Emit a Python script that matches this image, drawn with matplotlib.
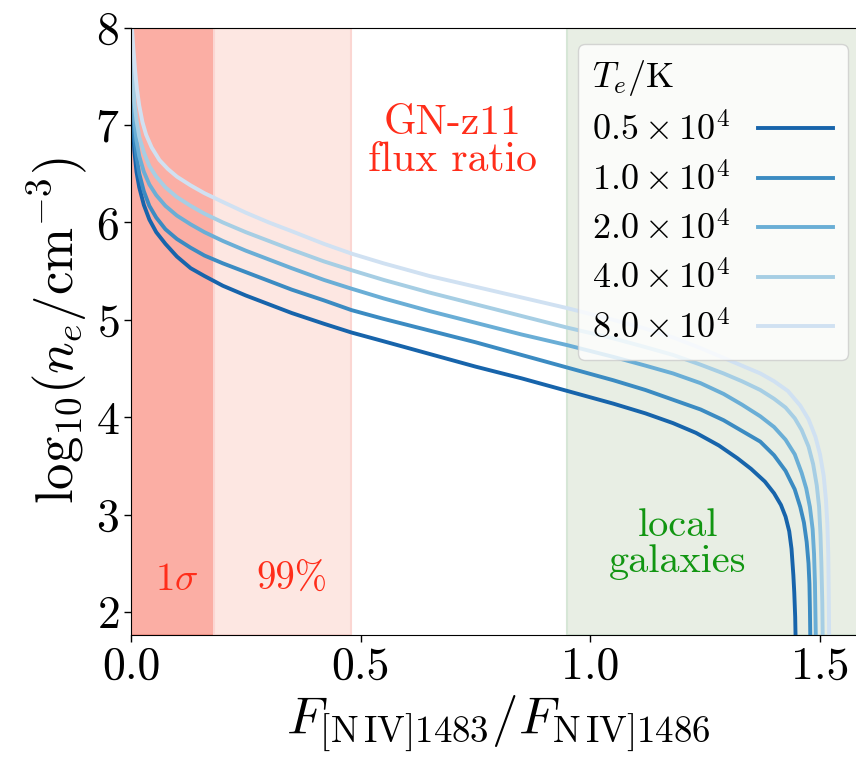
"""
N IV] 1483/1486 doublet ratio as an electron density diagnostic,
for a range of electron temperatures, with the GN-z11 measurement
and the local-galaxy range shaded.
"""
import matplotlib
matplotlib.use("Agg")
import matplotlib.pyplot as plt

plt.rcParams["font.family"] = "serif"
plt.rcParams["font.serif"] = ["cmr10", "DejaVu Serif"]
plt.rcParams["mathtext.fontset"] = "cm"
plt.rcParams["axes.unicode_minus"] = False
plt.rcParams["axes.formatter.use_mathtext"] = True

# flux ratio (x) vs log10 n_e (y) for each temperature
ratio_05 = [0.001, 0.002, 0.004, 0.007, 0.012, 0.018, 0.028, 0.040, 0.055, 0.075,
            0.10, 0.13, 0.16, 0.20, 0.25, 0.30, 0.35, 0.42, 0.48, 0.55,
            0.65, 0.75, 0.85, 0.95, 1.05, 1.12, 1.18, 1.23, 1.28, 1.32,
            1.35, 1.38, 1.40, 1.415, 1.425, 1.433, 1.438, 1.442, 1.444, 1.446,
            1.447]
logne_05 = [8.0, 7.6, 7.1, 6.75, 6.52, 6.36, 6.18, 6.03, 5.90, 5.78,
            5.65, 5.53, 5.45, 5.35, 5.25, 5.16, 5.07, 4.96, 4.87, 4.78,
            4.65, 4.52, 4.40, 4.27, 4.14, 4.04, 3.94, 3.84, 3.71, 3.58,
            3.47, 3.34, 3.22, 3.10, 2.98, 2.83, 2.65, 2.38, 2.2, 1.95,
            1.7]

ratio_10 = [0.001, 0.002, 0.004, 0.007, 0.012, 0.018, 0.028, 0.040, 0.055, 0.075,
            0.10, 0.13, 0.16, 0.20, 0.25, 0.30, 0.35, 0.42, 0.48, 0.55,
            0.65, 0.75, 0.85, 0.95, 1.05, 1.12, 1.18, 1.24, 1.29, 1.33,
            1.37, 1.40, 1.425, 1.445, 1.457, 1.465, 1.471, 1.475, 1.477, 1.478,
            1.479]
logne_10 = [8.0, 7.75, 7.3, 6.88, 6.67, 6.50, 6.32, 6.17, 6.05, 5.93,
            5.83, 5.74, 5.66, 5.58, 5.49, 5.40, 5.31, 5.20, 5.10, 5.01,
            4.89, 4.77, 4.64, 4.51, 4.38, 4.28, 4.18, 4.08, 3.97, 3.86,
            3.75, 3.61, 3.45, 3.26, 3.08, 2.92, 2.72, 2.5, 2.29, 2.05,
            1.7]

ratio_20 = [0.001, 0.003, 0.005, 0.007, 0.012, 0.018, 0.028, 0.040, 0.055, 0.075,
            0.10, 0.13, 0.16, 0.20, 0.25, 0.30, 0.35, 0.42, 0.48, 0.55,
            0.65, 0.75, 0.85, 0.95, 1.05, 1.12, 1.18, 1.24, 1.29, 1.33,
            1.37, 1.40, 1.425, 1.445, 1.46, 1.47, 1.478, 1.484, 1.487, 1.489,
            1.490, 1.491]
logne_20 = [8.0, 7.7, 7.35, 7.05, 6.84, 6.68, 6.52, 6.39, 6.28, 6.17,
            6.07, 5.98, 5.90, 5.81, 5.71, 5.62, 5.53, 5.41, 5.32, 5.22,
            5.09, 4.97, 4.85, 4.74, 4.62, 4.53, 4.45, 4.35, 4.24, 4.13,
            4.01, 3.90, 3.77, 3.62, 3.43, 3.27, 3.08, 2.85, 2.6, 2.3,
            2.0, 1.7]

ratio_40 = [0.001, 0.003, 0.005, 0.007, 0.012, 0.018, 0.028, 0.040, 0.055, 0.075,
            0.10, 0.13, 0.16, 0.20, 0.25, 0.30, 0.35, 0.42, 0.48, 0.55,
            0.65, 0.75, 0.85, 0.95, 1.05, 1.12, 1.18, 1.24, 1.29, 1.33,
            1.37, 1.40, 1.425, 1.445, 1.46, 1.475, 1.485, 1.493, 1.498, 1.501,
            1.503, 1.505, 1.506]
logne_40 = [8.0, 7.75, 7.48, 7.25, 7.05, 6.88, 6.72, 6.58, 6.47, 6.36,
            6.26, 6.17, 6.09, 6.00, 5.90, 5.81, 5.72, 5.60, 5.51, 5.41,
            5.28, 5.16, 5.04, 4.92, 4.81, 4.72, 4.64, 4.54, 4.45, 4.37,
            4.28, 4.19, 4.10, 3.99, 3.87, 3.70, 3.52, 3.30, 3.08, 2.8,
            2.5, 2.1, 1.7]

ratio_80 = [0.002, 0.005, 0.009, 0.013, 0.018, 0.025, 0.033, 0.045, 0.062, 0.08,
            0.10, 0.13, 0.16, 0.20, 0.25, 0.30, 0.35, 0.42, 0.48, 0.55,
            0.65, 0.75, 0.85, 0.95, 1.05, 1.12, 1.18, 1.24, 1.29, 1.33,
            1.37, 1.40, 1.43, 1.457, 1.475, 1.49, 1.50, 1.508, 1.513, 1.516,
            1.518, 1.519, 1.520]
logne_80 = [8.0, 7.8, 7.56, 7.37, 7.20, 7.03, 6.90, 6.77, 6.64, 6.55,
            6.47, 6.38, 6.30, 6.21, 6.10, 6.00, 5.91, 5.78, 5.68, 5.58,
            5.45, 5.34, 5.23, 5.12, 5.00, 4.91, 4.82, 4.71, 4.61, 4.53,
            4.45, 4.37, 4.27, 4.12, 3.98, 3.80, 3.62, 3.40, 3.15, 2.9,
            2.6, 2.2, 1.7]

temp_labels = [r"$0.5\times10^4$", r"$1.0\times10^4$", r"$2.0\times10^4$",
               r"$4.0\times10^4$", r"$8.0\times10^4$"]
ratios = [ratio_05, ratio_10, ratio_20, ratio_40, ratio_80]
lognes = [logne_05, logne_10, logne_20, logne_40, logne_80]

# shaded ranges in flux ratio
gnz11_1sigma = (0.0, 0.18)
gnz11_99 = (0.18, 0.48)
local_range = (0.95, 1.6)

fig = plt.figure(figsize=(8.56, 7.62), dpi=100)
ax = fig.add_axes([0.153, 0.1673, 0.8586, 0.7965])

ax.axvspan(*gnz11_1sigma, facecolor="#fbaea4", edgecolor="#f7978c", lw=1.5, zorder=0)
ax.axvspan(*gnz11_99, facecolor="#fde7e2", edgecolor="#fbd6d2", lw=1.5, zorder=0)
ax.axvspan(*local_range, facecolor="#e8eee4", edgecolor="#d6e6d6", lw=1.5, zorder=0)

colors = [plt.cm.Blues(v) for v in (0.8, 0.65, 0.5, 0.35, 0.2)]
for x, y, c, lab in zip(ratios, lognes, colors, temp_labels):
    ax.plot(x, y, color=c, lw=2.8, label=lab, solid_joinstyle="round")

red = "#ff2d1a"
green = "#129612"
ax.text(0.70, 6.83, "GN-z11\nflux ratio", color=red, fontsize=30,
        ha="center", va="center", linespacing=1.0)
ax.text(0.10, 2.33, r"$1\sigma$", color=red, fontsize=28, ha="center", va="center")
ax.text(0.35, 2.33, "99%", color=red, fontsize=28, ha="center", va="center")
ax.text(1.19, 2.7, "local\ngalaxies", color=green, fontsize=29,
        ha="center", va="center", linespacing=1.0)

ax.set_xlim(0, 1.6)
ax.set_ylim(1.77, 8.0)
ax.set_xticks([0.0, 0.5, 1.0, 1.5])
ax.set_xticklabels(["0.0", "0.5", "1.0", "1.5"])
ax.set_yticks([2, 3, 4, 5, 6, 7, 8])
ax.tick_params(labelsize=33, length=5, width=1)

ax.set_xlabel(r"$F_{[\mathrm{N\,IV}]1483}/F_{\mathrm{N\,IV}]1486}$", fontsize=38)
ax.set_ylabel(r"$\mathrm{log}_{10}(n_e/\mathrm{cm}^{-3})$", fontsize=38)

leg = ax.legend(title=r"$T_e/\mathrm{K}$", loc="upper right",
                bbox_to_anchor=(0.9755, 0.973), borderaxespad=0,
                fontsize=26, title_fontsize=26, markerfirst=False,
                handlelength=2.1, handletextpad=0.75, labelspacing=0.4,
                framealpha=0.8, fancybox=True)
leg._legend_box.align = "left"

fig.savefig("out.png", dpi=100)
